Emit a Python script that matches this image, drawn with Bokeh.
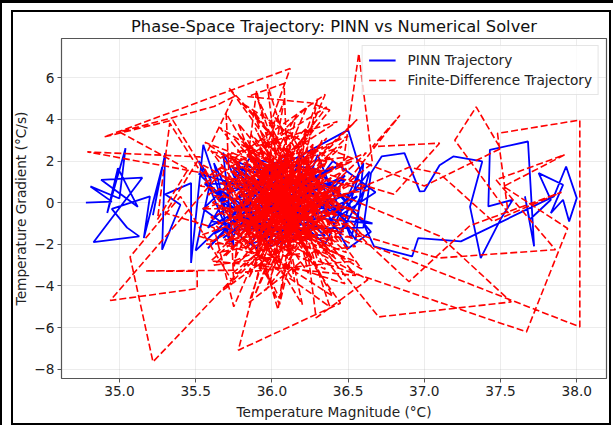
from bokeh.plotting import figure
from bokeh.models import Range1d, FixedTicker, Legend, LegendItem
from bokeh.embed import file_html
from bokeh.resources import INLINE

TITLE = "Phase-Space Trajectory: PINN vs Numerical Solver"
X_LABEL = "Temperature Magnitude (°C)"
Y_LABEL = "Temperature Gradient (°C/s)"
X_TICKS = [35.0, 35.5, 36.0, 36.5, 37.0, 37.5, 38.0]
Y_TICKS = [-8, -6, -4, -2, 0, 2, 4, 6]
SERIES_NAMES = ["PINN Trajectory", "Finite-Difference Trajectory"]

# PINN trajectory (temperature, gradient)
pinn_x = [
    34.78, 34.95, 34.81, 35.00, 35.04, 34.92, 34.99, 35.12, 34.88, 35.15,
    34.83, 35.13, 35.05, 34.95, 35.20, 35.16, 35.28, 35.22, 35.30, 35.28,
    35.40, 35.30, 35.47, 35.47, 35.55,
    35.70, 35.62, 35.85, 35.95, 35.58, 36.10, 35.78, 36.25, 35.90, 36.05,
    35.66, 36.30, 35.82, 36.15, 35.52, 36.00, 36.40, 35.74, 36.20, 35.88,
    35.50, 35.60, 35.52, 35.75, 35.68, 35.95, 36.20, 36.55, 36.60, 36.35,
    35.80, 35.55, 35.90, 36.15, 36.45, 36.68, 36.40, 36.05, 35.65, 35.72,
    36.12, 35.60, 36.35, 35.92, 36.50, 36.58, 36.45, 36.62, 36.30, 36.66,
    36.08, 35.76, 36.28, 35.98, 35.64, 36.18, 35.86, 36.42, 36.02, 35.70,
    36.60, 36.65, 36.72, 36.87, 36.97, 37.00, 37.10, 37.19, 37.38, 37.30,
    37.37, 37.50, 37.58, 37.42, 37.43, 37.68, 37.72, 37.66, 37.69, 37.83,
    37.75, 37.91, 37.83, 37.91, 37.95, 38.00, 37.93, 37.85,
    37.24, 36.96, 36.92, 36.67, 36.60, 36.40,
    35.95, 36.22, 35.68, 36.10, 35.80, 36.32, 35.90, 36.48, 36.04, 35.56,
    36.25, 36.50, 36.65, 36.30, 35.85, 35.58, 36.00, 36.48, 36.10, 35.78,
    36.15, 35.84, 36.36, 35.72, 36.26, 36.00, 35.62, 36.44, 35.94, 36.12,
    36.56, 36.38, 36.64, 36.52, 36.30, 36.10,
]
pinn_y = [
    0.00, 0.05, 0.78, 0.20, 2.62, -0.50, 1.66, -0.20, 1.10, 1.20,
    -1.90, -1.62, -1.20, -0.30, 0.30, -1.70, 1.70, -0.60, 2.38, -2.26,
    -0.10, 0.40, 0.94, -2.90, 2.78,
    -0.50, 1.90, -1.60, 0.80, -2.20, 1.60, 0.20, -0.90, 2.20, -1.80,
    0.60, 1.20, -1.10, 0.10, 1.40, -2.10, 0.70, 1.70, -1.40, 0.40,
    -2.30, 1.10, 2.00, -2.10, 2.40, -1.90, 2.30, -1.80, 1.90, -2.00,
    1.50, -0.30, -2.20, 1.80, -0.60, 0.50, 2.00, -1.40, 0.70, -1.90,
    2.50, -0.90, -1.60, 1.20, 3.50, 1.56, -1.50, 0.80, -0.20, -1.00,
    -0.60, 2.00, 0.50, -1.40, 0.20, 1.90, -2.00, -0.40, 1.00, -1.30,
    -1.20, 1.42, 2.22, 2.38, 0.54, 0.56, 1.80, 2.22, 1.98, -0.20,
    -2.66, -0.80, 0.14, -0.18, 2.54, 2.94, -2.10, 0.30, -0.82, 0.14,
    1.42, 0.86, -0.50, 0.14, -0.90, 0.22, 1.74, 0.30,
    -1.86, -1.70, -2.58, -2.10, -1.00, 0.90,
    -0.20, 1.40, -1.70, 0.30, 1.10, -1.20, -0.70, 1.30, -2.00, 0.90,
    0.90, -2.20, -1.40, 1.60, 2.10, -1.20, 0.50, 1.10, -2.10, 0.00,
    -0.30, 2.30, 0.00, -0.60, -1.80, 1.50, -1.50, 1.80, 0.10, -1.10,
    0.30, -0.90, 1.50, -1.70, 2.30, -1.60,
]

# Finite-difference trajectory (temperature, gradient)
fd_x = [
    36.00, 36.22, 35.88, 36.31, 35.79, 36.12, 36.41, 35.70, 36.05, 36.26,
    35.95, 36.18, 35.83, 36.37, 36.02, 35.91, 36.29, 35.76, 36.14, 36.46,
    36.57, 36.66, 36.20, 35.60,
    35.98, 36.33, 35.85, 36.09, 35.72, 36.24, 35.93, 36.40, 36.07, 35.81,
    36.12, 34.90, 35.35, 35.60,
    35.55, 36.55, 35.62, 36.50, 35.58, 36.60, 35.66, 36.48, 35.52, 36.58,
    36.16, 35.89, 36.35, 35.74, 36.03, 36.28, 35.96, 36.19, 35.80, 36.44,
    36.06, 35.67, 36.23, 35.92, 36.34, 35.78, 36.11, 36.50, 35.86, 36.01,
    35.22, 35.07, 35.40, 35.75,
    35.70, 36.40, 35.60, 36.62, 35.68, 36.52, 35.56, 36.45, 35.64, 36.56,
    36.20, 35.94, 36.38, 35.71, 36.08, 36.27, 35.84, 36.15, 35.99, 36.42,
    35.77, 36.10, 35.90, 36.30, 35.65, 36.04, 36.25, 35.87, 36.47, 36.13,
    35.78, 36.45, 36.10,
    35.82, 36.36, 35.97, 36.21, 35.73, 36.09, 36.32, 35.88, 36.17, 35.94,
    34.79, 35.53, 35.30, 35.62,
    35.75, 36.35, 35.59, 36.59, 35.72, 36.44, 35.54, 36.53, 35.63, 36.38,
    36.02, 36.40, 35.80, 36.24, 35.69, 36.06, 36.33, 35.91, 36.19, 35.75,
    36.70, 37.57, 37.10, 36.74,
    36.28, 35.85, 36.12, 35.96, 36.43, 35.68, 36.05, 36.22, 35.83, 36.15,
    36.84, 36.66, 37.10, 36.80,
    36.35, 35.90, 36.08, 35.78, 36.27, 35.99, 36.45, 35.72, 36.11, 36.30,
    37.67, 37.94, 37.52, 37.92, 37.47, 37.86, 37.09, 36.60,
    35.80, 36.49, 35.57, 36.61, 35.67, 36.43, 35.61, 36.54, 35.74, 36.47,
    36.18, 35.86, 36.38, 35.93, 36.21, 35.79, 36.03, 36.49, 35.88, 36.14,
    38.02, 38.02, 37.48, 37.55, 37.20, 37.34, 37.50, 37.00,
    36.40, 35.95, 36.26, 35.74, 36.09, 36.33, 35.84, 36.16, 36.01, 35.66,
    34.94, 35.51, 35.51, 35.17, 35.75,
    35.90, 36.20, 35.65, 36.57, 35.53, 36.36, 35.69, 36.51, 35.85, 36.30,
    36.12, 36.36, 35.82, 36.05, 35.97, 36.24, 35.71, 36.44, 35.92, 36.19,
    36.29, 36.63, 36.20,
    35.87, 36.34, 35.78, 36.08, 36.27, 35.91, 36.47, 35.70, 36.13, 35.99,
    35.33, 35.25, 35.45, 35.00, 35.62, 35.75,
    35.58, 36.63, 35.66, 36.41, 35.78, 36.55, 35.60, 36.46, 35.71, 36.05,
    36.20, 35.83, 36.39, 36.00, 35.77, 36.23, 35.94, 36.31, 35.86, 36.10,
    36.42, 35.73, 36.06, 36.28, 35.89, 36.17, 35.80, 36.36, 35.96, 36.12,
    36.08, 35.84, 36.25, 36.38,
    36.02, 36.30, 35.81, 36.14, 35.92, 36.45, 35.75, 36.07, 36.24, 35.88,
    36.19, 35.98, 36.35, 35.69, 36.11, 36.27, 35.85, 36.04, 36.18, 35.93,
    36.90, 37.10, 37.45, 37.90, 37.30, 36.90,
    36.40, 35.87, 36.15, 35.79, 36.32, 35.97, 36.22, 35.84, 36.09, 36.00,
]
fd_y = [
    0.30, -1.50, 2.10, 0.80, -2.20, 3.40, -0.60, 1.20, -3.10, 2.60,
    -0.90, 1.70, -1.40, 0.20, 4.10, -2.70, -0.20, 0.90, -1.90, 1.50,
    7.17, 1.90, -0.80, 2.50,
    -1.20, 3.00, -3.60, 0.60, -0.40, -2.50, 1.40, -1.70, 2.30, 0.10,
    6.45, 3.16, 3.97, 1.00,
    1.80, -2.10, -3.00, 3.20, 0.40, -0.80, 3.60, -3.90, -1.60, 1.10,
    -0.50, 3.60, -3.20, -1.00, 1.90, -1.10, -4.20, 0.40, 2.80, -0.30,
    -2.00, 0.50, 4.60, -0.70, 1.10, -2.90, -0.10, 2.20, 1.60, -1.60,
    -7.65, -2.60, 0.30, -3.88,
    4.30, -4.50, -0.70, 2.40, -4.20, 0.20, 2.90, -1.30, -2.40, 4.00,
    1.30, -0.30, -2.30, 2.40, -1.30, 3.70, -0.60, -3.80, 2.60, 0.50,
    -1.70, 1.00, 5.10, -0.90, -0.20, -2.40, 1.80, -1.00, -1.40, 2.90,
    -7.09, -4.83, -1.20,
    0.70, 2.70, -3.40, -0.40, 1.80, -2.60, 0.00, 4.40, -1.60, 0.90,
    2.44, 2.20, -0.50, -1.20,
    -5.00, 5.20, 1.30, -3.20, 5.50, -0.20, -0.30, 2.00, -1.10, -5.00,
    3.00, -2.00, -0.40, 1.50, -2.60, 0.20, -3.60, 2.00, -0.80, 3.10,
    -5.49, -4.77, -1.60, -0.51,
    0.90, -1.80, 2.40, -0.20, -1.00, 1.00, -4.60, 3.20, 0.30, -2.20,
    4.20, 2.69, 2.86, 0.40,
    1.40, -2.50, 4.90, -0.80, -1.80, 1.10, 0.70, -1.40, 2.00, -2.80,
    -6.21, -1.24, 0.78, 2.30, 1.10, -2.26, -2.66, -1.60,
    4.80, 1.60, -2.00, -1.60, 2.20, 3.90, 0.00, -2.80, -3.40, 0.90,
    0.00, 3.30, -0.50, -3.00, 2.10, 0.60, -1.10, -2.40, 1.70, -0.60,
    -5.97, 3.97, 3.33, -0.50, 3.00, 4.60, 2.60, 0.80,
    2.50, -1.50, 0.50, 2.20, -3.30, 1.00, -0.10, 4.20, -0.90, 1.40,
    -4.70, -4.13, -3.30, -3.28, -3.25,
    5.40, -4.90, 1.70, -0.40, 0.80, 4.60, -1.80, -1.00, -4.80, 5.00,
    -1.40, 2.00, -2.30, 0.80, 5.70, -0.70, -0.60, -1.90, 2.70, 0.30,
    -5.54, -3.70, -2.00,
    1.00, -1.20, 3.80, -2.00, 2.30, -0.50, 0.40, -1.90, 1.50, -3.80,
    3.82, -0.80, 1.60, 3.40, 4.62, 5.09,
    2.50, 0.60, -0.50, -2.60, 3.30, -3.50, -2.80, 2.70, 0.90, -4.90,
    -0.30, -1.20, 1.20, -2.60, 0.40, 3.60, -1.70, -0.20, 2.30, -0.70,
    -2.70, 1.50, -0.10, 1.90, -4.40, 0.90, -0.90, 3.10, 0.00, -2.50,
    5.73, 5.10, 4.80, 4.45,
    1.20, -1.50, 1.90, -0.40, 3.20, -0.80, -2.80, 2.00, -3.40, 0.50,
    -1.00, 1.60, 0.30, -0.90, -1.80, 2.80, -0.30, -5.14, 0.60, -1.30,
    1.70, 1.40, -0.90, 0.50, -1.10, -3.80,
    -0.40, 2.60, -1.10, -1.60, 1.60, 0.40, -2.10, 3.00, -0.50, 0.00,
]

FONT = "DejaVu Sans"
TXT = "13.7px"

# screenshot frame drawn as CSS background layers behind a transparent border area
FRAME_CSS = ", ".join([
    "linear-gradient(#000,#000) 0px 0px / 613px 3px no-repeat",
    "linear-gradient(#000,#000) 0px 0px / 2px 425px no-repeat",
    "linear-gradient(#000,#000) 11px 10px / 600px 2px no-repeat",
    "linear-gradient(#000,#000) 11px 10px / 2px 415px no-repeat",
    "linear-gradient(#000,#000) 609px 10px / 2px 415px no-repeat",
    "linear-gradient(#000,#000) 11px 423px / 600px 2px no-repeat",
    "#ffffff",
])

p = figure(width=613, height=425, output_backend="svg", toolbar_location=None,
           x_range=Range1d(34.62, 38.195), y_range=Range1d(-8.45, 7.89),
           min_border_left=61, min_border_right=7, min_border_top=38, min_border_bottom=47)
p.background_fill_color = "white"
p.border_fill_color = None
p.styles = {"background": FRAME_CSS}
p.outline_line_color = "#555555"
p.outline_line_width = 1.2

p.title.text = TITLE
p.title.align = "center"
p.title.text_font = FONT
p.title.text_font_size = "16.3px"
p.title.text_font_style = "normal"
p.title.text_color = "#111111"
p.title.offset = 0
p.title.standoff = 5

p.xaxis.ticker = FixedTicker(ticks=X_TICKS)
p.yaxis.ticker = FixedTicker(ticks=Y_TICKS)
p.xaxis.major_label_overrides = {t: f"{t:.1f}" for t in X_TICKS}
p.yaxis.major_label_overrides = {t: (f"\u2212{abs(t)}" if t < 0 else f"{t}") for t in Y_TICKS}
p.xaxis.axis_label = X_LABEL
p.yaxis.axis_label = Y_LABEL
for ax in (p.xaxis, p.yaxis):
    ax.axis_line_color = None
    ax.major_tick_line_color = "#555555"
    ax.major_tick_out = 4
    ax.major_tick_in = 0
    ax.minor_tick_line_color = None
    ax.major_label_text_font = FONT
    ax.major_label_text_font_size = TXT
    ax.major_label_text_color = "#222222"
    ax.axis_label_text_font = FONT
    ax.axis_label_text_font_size = TXT
    ax.axis_label_text_font_style = "normal"
    ax.axis_label_text_color = "#222222"
    ax.major_label_standoff = 3
p.xaxis.axis_label_standoff = 5
p.yaxis.axis_label_standoff = 2

p.grid.grid_line_color = "#b0b0b0"
p.grid.grid_line_alpha = 0.3
p.grid.grid_line_width = 0.8

r1 = p.line(pinn_x, pinn_y, line_color="#0000ff", line_width=1.8)
r2 = p.line(fd_x, fd_y, line_color="#ff0000", line_width=1.6, line_dash="7 3")

legend = Legend(items=[LegendItem(label=SERIES_NAMES[0], renderers=[r1]),
                       LegendItem(label=SERIES_NAMES[1], renderers=[r2])],
                location="top_right")
legend.label_text_font = FONT
legend.label_text_font_size = TXT
legend.label_text_color = "#222222"
legend.glyph_width = 27
legend.glyph_height = 16
legend.label_standoff = 12
legend.label_height = 16
legend.spacing = 4
legend.padding = 6
legend.margin = 7
legend.border_line_color = "#cccccc"
legend.border_line_width = 1
legend.background_fill_color = "white"
legend.background_fill_alpha = 0.8
p.add_layout(legend)

open("out.html", "w").write(file_html(p, INLINE))
